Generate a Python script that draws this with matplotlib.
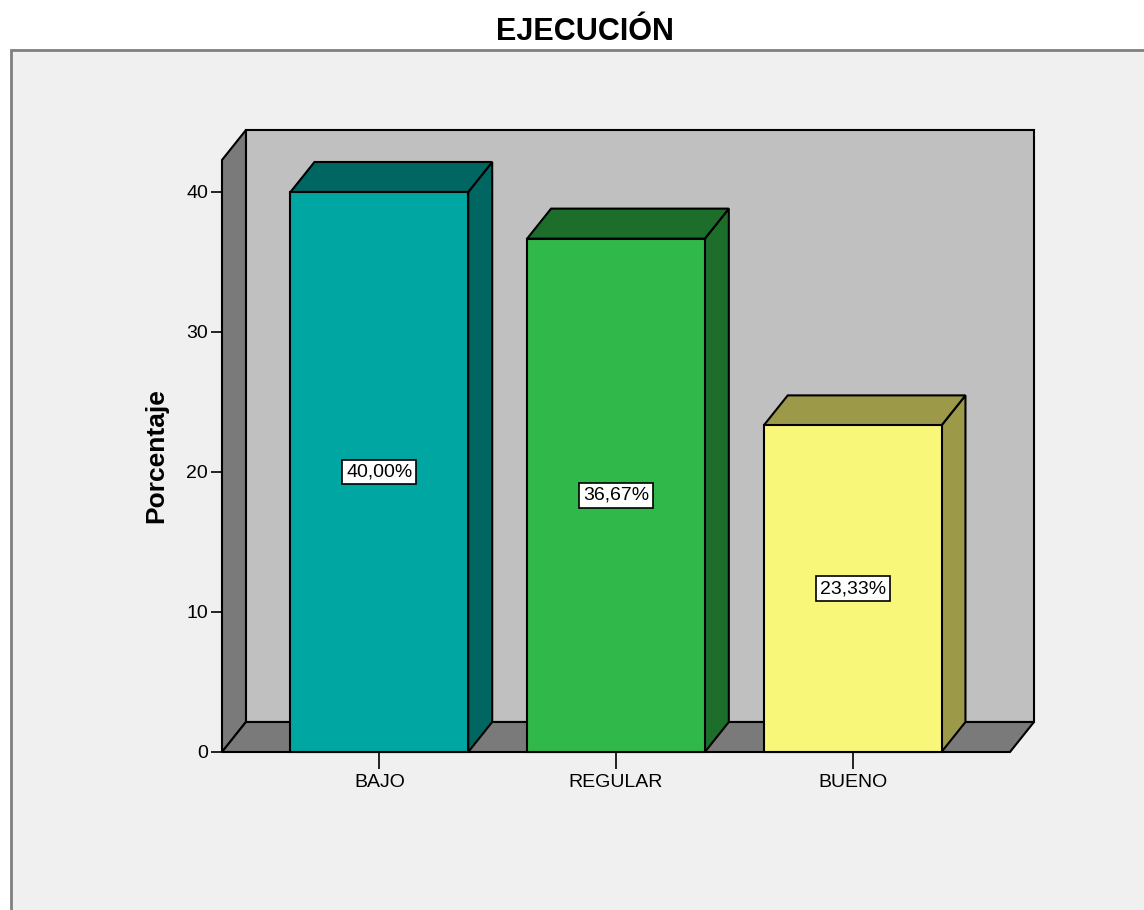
import matplotlib.pyplot as plt
from matplotlib.patches import Polygon, Rectangle

categorias = ["BAJO", "REGULAR", "BUENO"]
porcentajes = [40.00, 36.67, 23.33]
etiquetas = ["40,00%", "36,67%", "23,33%"]
y_ticks = [0, 10, 20, 30, 40]

frente = ["#00a6a1", "#31b84b", "#f9f77a"]
oscuro = ["#006661", "#1e6e2b", "#9c9a48"]

W, H = 1144, 910
fig = plt.figure(figsize=(W / 100, H / 100), dpi=100)
fig.patch.set_facecolor("white")

# marco gris claro del grafico
fig.patches.append(Rectangle((11 / W, -0.1), 1.2, 1 - 50 / H + 0.1,
                             transform=fig.transFigure, facecolor="#f0f0f0",
                             edgecolor="#808080", linewidth=2, zorder=-5))

# plano frontal: x de 222 a 1010 px, y de 752 a 160 px
ax = fig.add_axes([222 / W, (H - 752) / H, (1010 - 222) / W, (752 - 160) / H])
ax.set_facecolor("none")
xmin, xmax = -0.665, 2.665
ymax = (752 - 160) / 14.0
ax.set_xlim(xmin, xmax)
ax.set_ylim(0, ymax)

# profundidad en unidades de datos
dx = 24 / 237.0
dy = 30 / 14.0
ancho = 178 / 237.0

kw = dict(edgecolor="black", linewidth=1.5, clip_on=False, joinstyle="miter")
# pared del fondo, pared izquierda y piso
ax.add_patch(Polygon([(xmin + dx, dy), (xmax + dx, dy), (xmax + dx, ymax + dy),
                      (xmin + dx, ymax + dy)], facecolor="#c0c0c0", **kw))
ax.add_patch(Polygon([(xmin, 0), (xmin + dx, dy), (xmin + dx, ymax + dy),
                      (xmin, ymax)], facecolor="#7a7a7a", **kw))
ax.add_patch(Polygon([(xmin, 0), (xmax, 0), (xmax + dx, dy), (xmin + dx, dy)],
                     facecolor="#7a7a7a", **kw))

for i, (v, lab) in enumerate(zip(porcentajes, etiquetas)):
    x0, x1 = i - ancho / 2, i + ancho / 2
    # cara lateral
    ax.add_patch(Polygon([(x1, 0), (x1 + dx, dy), (x1 + dx, v + dy), (x1, v)],
                         facecolor=oscuro[i], **kw))
    # cara superior
    ax.add_patch(Polygon([(x0, v), (x1, v), (x1 + dx, v + dy), (x0 + dx, v + dy)],
                         facecolor=oscuro[i], **kw))
    # cara frontal
    ax.add_patch(Polygon([(x0, 0), (x1, 0), (x1, v), (x0, v)],
                         facecolor=frente[i], **kw))
    ax.text(i, v / 2, lab, ha="center", va="center", fontsize=14,
            family="Liberation Sans",
            bbox=dict(boxstyle="square,pad=0.2", facecolor="white",
                      edgecolor="black", linewidth=1.2))

for s in ax.spines.values():
    s.set_visible(False)
ax.set_yticks(y_ticks)
ax.set_yticklabels([str(t) for t in y_ticks], fontsize=14, family="Liberation Sans")
ax.set_xticks(range(len(categorias)))
ax.set_xticklabels(categorias, fontsize=14, family="Liberation Sans")
ax.tick_params(axis="y", length=8, width=1.2, pad=2)
ax.tick_params(axis="x", length=12, width=1.2, pad=4)

ax.set_ylabel("Porcentaje", fontsize=19, fontweight="bold",
              family="Liberation Sans", labelpad=13)
fig.text(585 / W, 1 - 32 / H, "EJECUCIÓN", ha="center", va="center",
         fontsize=22, fontweight="bold", family="Liberation Sans")

fig.savefig("out.png", dpi=100, facecolor=fig.get_facecolor())
